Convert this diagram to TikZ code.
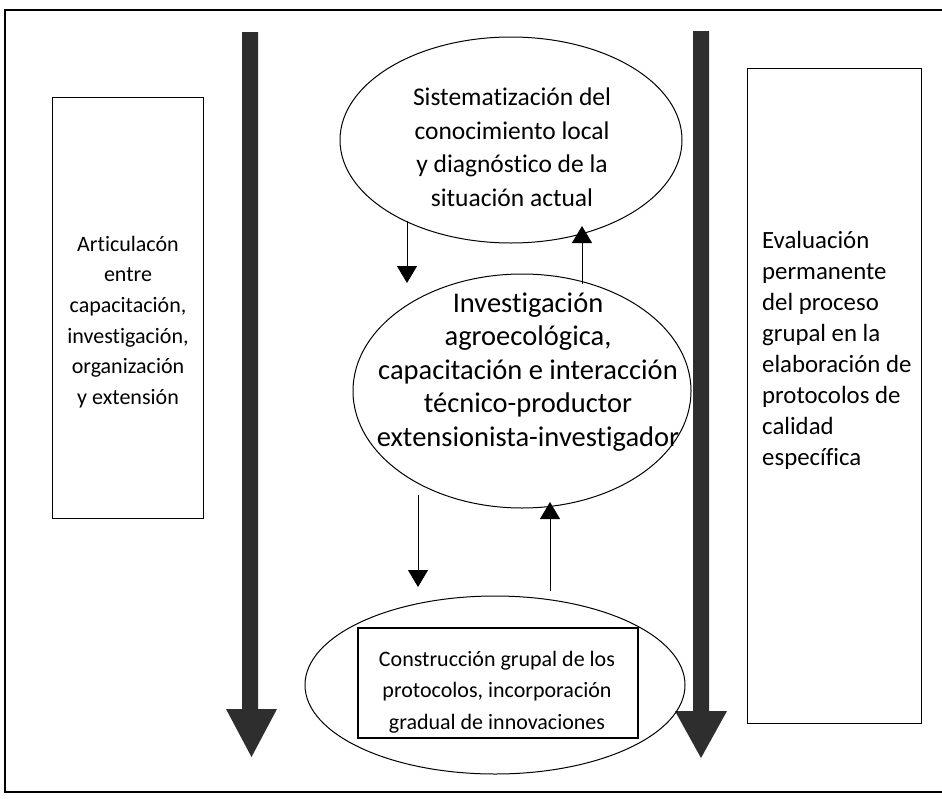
\documentclass[tikz,border=0pt]{standalone}
\usepackage{fontspec}
\setmainfont{Carlito}[Ligatures=CommonOff]
\usetikzlibrary{shapes.geometric,arrows.meta}
\begin{document}
\begin{tikzpicture}[x=1pt,y=-1pt,
  oval/.style={ellipse, draw, line width=1pt, inner sep=0pt},
  sidebox/.style={draw, line width=0.9pt, inner sep=0pt},
  thinarrow/.style={-{Triangle[length=17pt,width=20pt]}, line width=1pt},
  bigarrow/.style={fill=black!82, draw=none},
  ovaltext/.style={align=center, inner sep=0pt},
  sidetext/.style={inner sep=0pt}]
\useasboundingbox (0,0) rectangle (942,798);
% frame
\draw[line width=1.6pt] (948,10) -- (5,10) -- (5,792) -- (948,792);
% side boxes
\node[sidebox, minimum width=151pt, minimum height=421pt] (lb) at (127.5,307.5) {};
\node[sidebox, minimum width=174pt, minimum height=655pt] (rb) at (834,395.5) {};
\node[sidetext, align=center, font=\fontsize{22}{30.6}\selectfont] (lt) at (128,322) {Articulacón\\entre\\capacitación,\\investigación,\\organización\\y extensión};
\node[sidetext, align=left, anchor=west, font=\fontsize{24.8}{31}\selectfont] (rt) at (762,350) {Evaluación\\permanente\\del proceso\\grupal en la\\elaboración de\\protocolos de\\calidad\\específica};
% thick arrows
\path[bigarrow] (242,32) -- (258,32) -- (258,709) -- (277,709) -- (251.5,757) -- (226,709) -- (242,709) -- cycle;
\path[bigarrow] (693,31) -- (709,31) -- (709,711) -- (727,711) -- (701,758) -- (675,711) -- (693,711) -- cycle;
% ellipses
\node[oval, minimum width=342pt, minimum height=206pt] (e1) at (511,140) {};
\node[oval, minimum width=338pt, minimum height=234pt] (e2) at (522,391) {};
\node[oval, minimum width=380pt, minimum height=178pt] (e3) at (495,685) {};
\node[draw, line width=1.6pt, minimum width=280pt, minimum height=110pt] (r3) at (498,683) {};
\node[ovaltext, font=\fontsize{25.5}{33.5}\selectfont] (t1) at (512,147) {Sistematización del\\conocimiento local\\y diagnóstico de la\\situación actual};
\node[ovaltext, font=\fontsize{28.5}{33.5}\selectfont] (t2) at (528,372) {Investigación\\agroecológica,\\capacitación e interacción\\técnico-productor\\extensionista-investigador};
\node[ovaltext, font=\fontsize{22}{31.5}\selectfont] (t3) at (497,692) {Construcción grupal de los\\protocolos, incorporación\\gradual de innovaciones};
% small arrows
\coordinate (a1s) at (407,221);
\coordinate (a1e) at (407,283);
\coordinate (a2s) at (582,284);
\coordinate (a2e) at (582,226);
\coordinate (a3s) at (418,495);
\coordinate (a3e) at (418,587);
\coordinate (a4s) at (550,591);
\coordinate (a4e) at (550,502);
\draw[thinarrow] (a1s) -- (a1e);
\draw[thinarrow] (a2s) -- (a2e);
\draw[thinarrow] (a3s) -- (a3e);
\draw[thinarrow] (a4s) -- (a4e);
\end{tikzpicture}
\end{document}
